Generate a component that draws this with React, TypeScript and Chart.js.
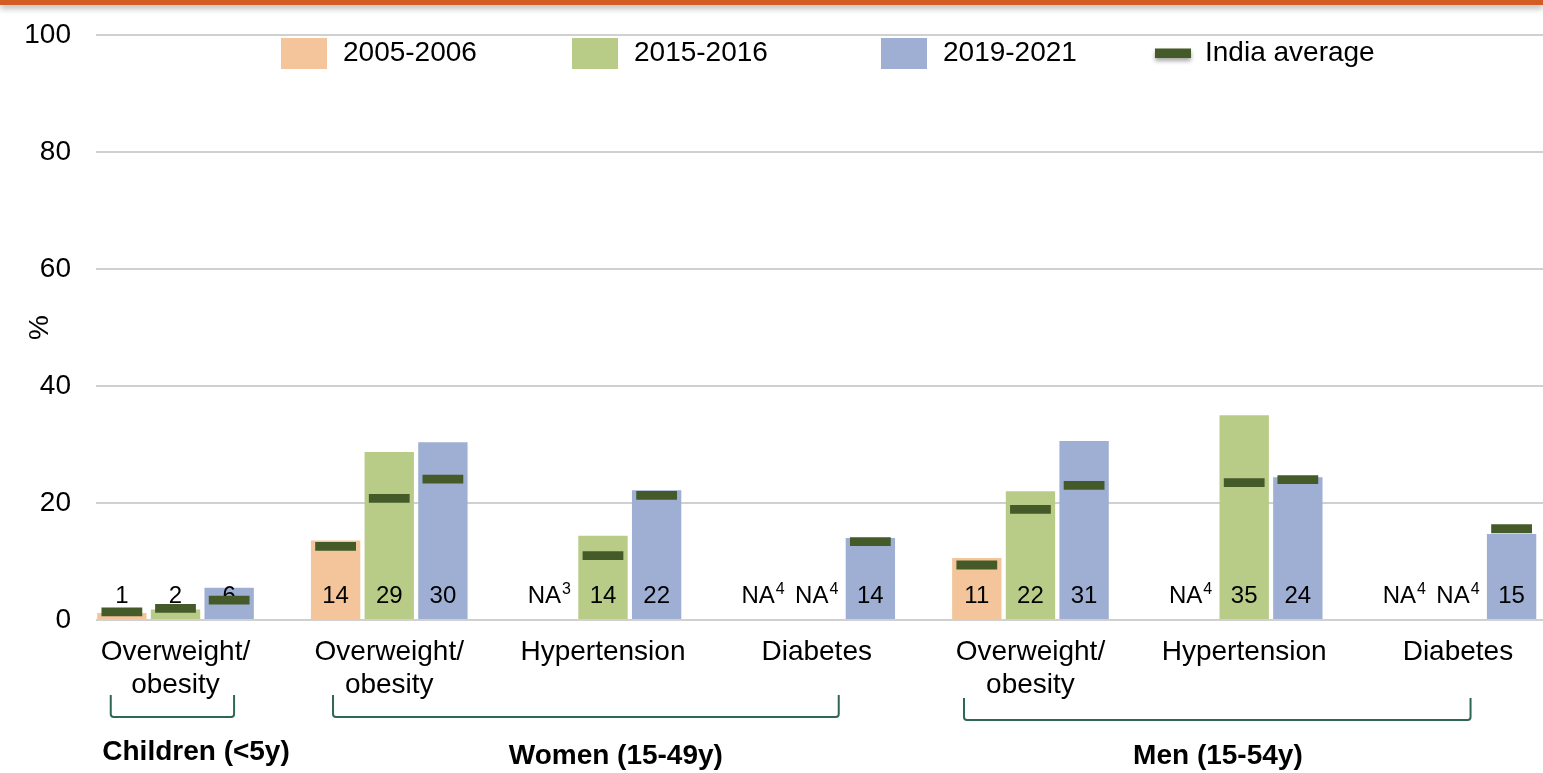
import React, { useEffect, useRef } from "react";
import { Chart, registerables } from "chart.js";

Chart.register(...registerables);

// ---------- data ----------
const CATEGORIES: string[][] = [
  ["Overweight/", "obesity"],
  ["Overweight/", "obesity"],
  ["Hypertension"],
  ["Diabetes"],
  ["Overweight/", "obesity"],
  ["Hypertension"],
  ["Diabetes"],
];
const SERIES_NAMES = ["2005-2006", "2015-2016", "2019-2021"];
const AVG_NAME = "India average";

const VALUES_2005 = [1.2, 13.6, null, null, 10.6, null, null];
const VALUES_2015 = [1.8, 28.7, 14.4, null, 22.0, 35.0, null];
const VALUES_2019 = [5.5, 30.4, 22.2, 14.0, 30.6, 24.4, 14.7];

const AVG_2005 = [1.4, 12.6, null, null, 9.4, null, null];
const AVG_2015 = [2.0, 20.8, 11.0, null, 18.9, 23.5, null];
const AVG_2019 = [3.4, 24.1, 21.3, 13.4, 23.0, 24.0, 15.6];

// footnote numbers shown as "NA" + superscript where a value is missing
const NOTES_2005 = [null, null, "3", "4", null, "4", "4"];
const NOTES_2015 = [null, null, null, "4", null, null, "4"];
const NOTES_2019 = [null, null, null, null, null, null, null];

const GROUPS = ["Children (<5y)", "Women (15-49y)", "Men (15-54y)"];
const Y_TICKS_STEP = 20;

// ---------- style / layout ----------
const FONT = '"Liberation Sans", Arial, Helvetica, sans-serif';
const COLORS = ["#F4C59B", "#B8CC88", "#9EAFD3"];
const MARKER = "#445A28";
const BRACKET = "#2E6658";
const SERIES_VALUES = [VALUES_2005, VALUES_2015, VALUES_2019];
const SERIES_AVG = [AVG_2005, AVG_2015, AVG_2019];
const SERIES_NOTES = [NOTES_2005, NOTES_2015, NOTES_2019];

const X_MIN = -0.372;
const X_MAX = 6.398;
const MARK_HALF = 0.75;
const CAT_PCT = 0.753;

// bracket spans in x-axis units, label centre in x-axis units
const BRACKET_LAYOUT = [
  { from: -0.303, to: 0.274, mid: 0.096, dy: 0, ly: 752 },
  { from: 0.737, to: 3.103, mid: 2.06, dy: 0, ly: 756 },
  { from: 3.689, to: 6.059, mid: 4.877, dy: 3, ly: 756 },
];
const LEGEND_TEXT_X = [343, 634, 943, 1205];

const labelPlugin = {
  id: "valueLabels",
  afterDatasetDraw(chart: any, args: any) {
    const s = args.index;
    if (s > 2) return;
    const ctx = chart.ctx as CanvasRenderingContext2D;
    const y0 = chart.scales.y.getPixelForValue(0) - 24;
    const values = SERIES_VALUES[s];
    const notes = SERIES_NOTES[s];
    args.meta.data.forEach((el: any, i: number) => {
      const x = el.x;
      ctx.save();
      ctx.fillStyle = "#000";
      ctx.textBaseline = "middle";
      const v = values[i];
      if (v != null) {
        ctx.font = `24px ${FONT}`;
        ctx.textAlign = "center";
        ctx.fillText(String(Math.round(v)), x, y0);
      } else if (notes[i]) {
        ctx.font = `24px ${FONT}`;
        const wNA = ctx.measureText("NA").width;
        ctx.font = `16px ${FONT}`;
        const wSup = ctx.measureText(notes[i] as string).width;
        const total = wNA + 1 + wSup;
        const start = x - total / 2;
        ctx.textAlign = "left";
        ctx.font = `24px ${FONT}`;
        ctx.fillText("NA", start, y0);
        ctx.font = `16px ${FONT}`;
        ctx.fillText(notes[i] as string, start + wNA + 1, y0 - 6);
      }
      ctx.restore();
    });
  },
};

const decorPlugin = {
  id: "decor",
  afterDraw(chart: any) {
    const ctx = chart.ctx as CanvasRenderingContext2D;
    const xs = chart.scales.x;
    // legend
    ctx.save();
    ctx.font = `28px ${FONT}`;
    ctx.textBaseline = "middle";
    ctx.textAlign = "left";
    ctx.fillStyle = "#000";
    SERIES_NAMES.forEach((name, s) => {
      const tx = LEGEND_TEXT_X[s];
      ctx.fillStyle = COLORS[s];
      ctx.fillRect(tx - 62, 38, 46, 31);
      ctx.fillStyle = "#000";
      ctx.fillText(name, tx, 53);
    });
    const ax = LEGEND_TEXT_X[3];
    ctx.save();
    ctx.shadowColor = "rgba(0,0,0,0.35)";
    ctx.shadowBlur = 4;
    ctx.shadowOffsetY = 3;
    ctx.fillStyle = MARKER;
    ctx.fillRect(ax - 50, 48.5, 36, 9.5);
    ctx.restore();
    ctx.fillStyle = "#000";
    ctx.fillText(AVG_NAME, ax, 53);
    ctx.restore();

    // brackets & group labels
    ctx.save();
    ctx.strokeStyle = BRACKET;
    ctx.lineWidth = 2;
    BRACKET_LAYOUT.forEach((b, g) => {
      const x1 = xs.getPixelForValue(b.from);
      const x2 = xs.getPixelForValue(b.to);
      const top = 695 + b.dy;
      const bot = 717 + b.dy;
      ctx.beginPath();
      ctx.moveTo(x1, top);
      ctx.lineTo(x1, bot - 3);
      ctx.quadraticCurveTo(x1, bot, x1 + 3, bot);
      ctx.lineTo(x2 - 3, bot);
      ctx.quadraticCurveTo(x2, bot, x2, bot - 3);
      ctx.lineTo(x2, top);
      ctx.stroke();
      ctx.fillStyle = "#000";
      ctx.font = `bold 28px ${FONT}`;
      ctx.textAlign = "center";
      ctx.textBaseline = "middle";
      ctx.fillText(GROUPS[g], xs.getPixelForValue(b.mid), b.ly);
    });
    ctx.restore();
  },
};

export default function App() {
  const ref = useRef<HTMLCanvasElement>(null);
  useEffect(() => {
    document.body.style.margin = "0";
    const datasets: any[] = [];
    SERIES_NAMES.forEach((name, s) => {
      datasets.push({
        type: "bar",
        label: name,
        data: SERIES_VALUES[s].map((v, i) => ({ x: i, y: v })),
        backgroundColor: COLORS[s],
        borderWidth: 0,
        stack: "s" + s,
        order: 1,
        categoryPercentage: CAT_PCT,
        barPercentage: 0.92,
      });
    });
    SERIES_NAMES.forEach((_, s) => {
      datasets.push({
        type: "bar",
        label: AVG_NAME,
        data: SERIES_AVG[s].map((v, i) => ({
          x: i,
          y: v == null ? null : [v - MARK_HALF, v + MARK_HALF],
        })),
        backgroundColor: MARKER,
        borderWidth: 0,
        stack: "s" + s,
        order: 0,
        categoryPercentage: CAT_PCT,
        barPercentage: 0.76,
      });
    });

    const chart = new Chart(ref.current as HTMLCanvasElement, {
      type: "bar",
      data: { datasets },
      options: {
        responsive: false,
        animation: false,
        events: [],
        layout: { padding: { top: 35, left: 0, right: 0, bottom: 0 } },
        plugins: { legend: { display: false }, tooltip: { enabled: false } },
        scales: {
          x: {
            type: "linear",
            min: X_MIN,
            max: X_MAX,
            offset: false,
            grid: { display: false, drawTicks: false },
            border: { display: false },
            ticks: {
              stepSize: 1,
              includeBounds: false,
              autoSkip: false,
              maxRotation: 0,
              minRotation: 0,
              padding: 15,
              color: "#000",
              font: { family: FONT, size: 28 },
              callback: (v: any) =>
                Number.isInteger(v) && CATEGORIES[v] ? CATEGORIES[v] : "",
            },
            afterFit: (s: any) => {
              s.height = 153;
            },
          },
          y: {
            min: 0,
            max: 100,
            stacked: false,
            grid: {
              color: "#D0D0D0",
              lineWidth: 2,
              drawTicks: true,
              tickLength: 25,
              tickColor: "rgba(0,0,0,0)",
            },
            border: { display: false },
            ticks: {
              stepSize: Y_TICKS_STEP,
              padding: 0,
              color: "#000",
              font: { family: FONT, size: 28 },
            },
            title: {
              display: true,
              text: "%",
              color: "#000",
              font: { family: FONT, size: 28 },
              padding: { top: 23, bottom: 0 },
            },
            afterFit: (s: any) => {
              s.width = 96;
            },
          },
        } as any,
      },
      plugins: [labelPlugin, decorPlugin],
    } as any);
    return () => chart.destroy();
  }, []);

  return (
    <div
      style={{
        position: "fixed",
        left: 0,
        top: 0,
        width: 1543,
        height: 773,
        background: "#fff",
        overflow: "hidden",
      }}
    >
      <canvas
        ref={ref}
        width={1543}
        height={773}
        style={{ display: "block", width: 1543, height: 773 }}
      />
      <div
        style={{
          position: "absolute",
          left: 0,
          top: 0,
          width: "100%",
          height: 5,
          background: "#D35B24",
          boxShadow: "0 3px 6px rgba(0,0,0,0.35)",
        }}
      />
    </div>
  );
}
